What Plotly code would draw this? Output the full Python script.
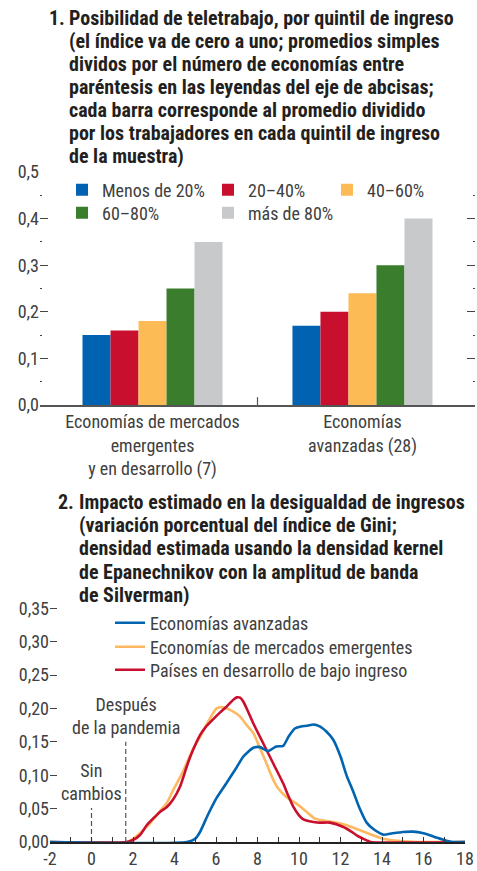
import plotly.graph_objects as go

FONT = "Roboto Condensed, Liberation Sans Narrow, Arial Narrow, sans-serif"
TXT = "#404040"
TITLE_C = "#231f20"
BODY_SIZE = 18
TITLE_SIZE = 20

# ---------------- Panel 1 data ----------------
categories = ["Economías de mercados<br>emergentes<br>y en desarrollo (7)",
              "Economías<br>avanzadas (28)"]
quintile_names = ["Menos de 20%", "20–40%", "40–60%", "60–80%", "más de 80%"]
q1_values = [0.15, 0.17]
q2_values = [0.16, 0.20]
q3_values = [0.18, 0.24]
q4_values = [0.25, 0.30]
q5_values = [0.35, 0.40]
bar_colors = ["#0062b1", "#c8102e", "#fdbb55", "#3a7d2c", "#c8c9cb"]
p1_ticks = [0.0, 0.1, 0.2, 0.3, 0.4, 0.5]
p1_ticktext = ["0,0", "0,1", "0,2", "0,3", "0,4", "0,5"]
title1_num = "1."
title1_lines = ["Posibilidad de teletrabajo, por quintil de ingreso",
                "(el índice va de cero a uno; promedios simples",
                "dividos por el número de economías entre",
                "paréntesis en las leyendas del eje de abcisas;",
                "cada barra corresponde al promedio dividido",
                "por los trabajadores en cada quintil de ingreso",
                "de la muestra)"]

# ---------------- Panel 2 data ----------------
ae_x = [-2, 4.6, 5.0, 5.23, 5.6, 6.03, 6.5, 7.0, 7.32, 7.8, 8.12, 8.5, 8.9, 9.24, 9.5,
        9.8, 10.1, 10.4, 10.7, 11.0, 11.33, 11.65, 12.0, 12.3, 12.62, 12.9, 13.26,
        13.6, 14.06, 14.5, 15.0, 15.5, 16.0, 16.5, 17.1, 17.4, 18]
ae_y = [0, 0, 0.005, 0.015, 0.04, 0.066, 0.088, 0.112, 0.128, 0.141, 0.142, 0.136,
        0.143, 0.144, 0.158, 0.170, 0.173, 0.174, 0.176, 0.173, 0.165, 0.153, 0.128,
        0.099, 0.075, 0.052, 0.029, 0.019, 0.011, 0.013, 0.015, 0.0155, 0.013, 0.008,
        0.002, 0, 0]
eme_x = [-2, 1.7, 2.02, 2.5, 2.82, 3.3, 3.62, 3.94, 4.27, 4.59, 4.9, 5.23, 5.71, 6.03,
         6.35, 6.6, 7.0, 7.16, 7.48, 7.8, 8.1, 8.44, 8.76, 9.0, 9.4, 9.89, 10.37,
         10.77, 11.2, 11.65, 12.3, 12.94, 13.58, 14.06, 14.87, 15.7, 18]
eme_y = [0, 0, 0.005, 0.018, 0.028, 0.046, 0.058, 0.078, 0.097, 0.118, 0.14, 0.157,
         0.185, 0.200, 0.2016, 0.199, 0.192, 0.1876, 0.175, 0.163, 0.142, 0.117, 0.093,
         0.080, 0.067, 0.057, 0.045, 0.035, 0.032, 0.03, 0.025, 0.0175, 0.01, 0.005,
         0.0015, 0, 0]
lidc_x = [-2, 1.69, 2.0, 2.34, 2.66, 3.0, 3.3, 3.62, 3.94, 4.27, 4.59, 4.75, 5.07, 5.23,
          5.5, 5.87, 6.2, 6.51, 6.8, 7.0, 7.16, 7.32, 7.55, 7.8, 8.28, 8.76, 9.24, 9.5,
          9.73, 10.0, 10.21, 10.5, 10.69, 11.0, 11.49, 12.14, 12.5, 12.78, 13.26,
          13.45, 18]
lidc_y = [0, 0, 0.003, 0.0105, 0.025, 0.036, 0.045, 0.052, 0.064, 0.083, 0.113, 0.127,
          0.15, 0.16, 0.172, 0.184, 0.194, 0.2026, 0.212, 0.2165, 0.216, 0.21, 0.195,
          0.1775, 0.1475, 0.1175, 0.0875, 0.068, 0.0525, 0.04, 0.034, 0.031, 0.03,
          0.029, 0.029, 0.0225, 0.016, 0.01, 0.0025, 0, 0]
series_names = ["Economías avanzadas", "Economías de mercados emergentes",
                "Países en desarrollo de bajo ingreso"]
line_colors = ["#0064b0", "#fdb961", "#c8102e"]
p2_yticks = [0.0, 0.05, 0.10, 0.15, 0.20, 0.25, 0.30, 0.35]
p2_yticktext = ["0,00", "0,05", "0,10", "0,15", "0,20", "0,25", "0,30", "0,35"]
p2_xticks = [-2, 0, 2, 4, 6, 8, 10, 12, 14, 16, 18]
p2_xticktext = ["-2", "0", "2", "4", "6", "8", "10", "12", "14", "16", "18"]
ref_x = [0.0, 1.65]
ref_top = [0.051, 0.150]
ref_labels = ["Sin<br>cambios", "Después<br>de la pandemia"]
title2_num = "2."
title2_lines = ["Impacto estimado en la desigualdad de ingresos",
                "(variación porcentual del índice de Gini;",
                "densidad estimada usando la densidad kernel",
                "de Epanechnikov con la amplitud de banda",
                "de Silverman)"]

W, H = 477, 871
def px_x(p): return p / W
def px_y(p): return 1 - p / H

fig = go.Figure()

bar_series = [q1_values, q2_values, q3_values, q4_values, q5_values]
legend_text_pos = [(102, 190), (248, 190), (367, 190), (102, 213), (248, 213)]
for i, (name, vals, col) in enumerate(zip(quintile_names, bar_series, bar_colors)):
    lg = "legend" if i == 0 else f"legend{i+1}"
    fig.add_trace(go.Bar(x=[0, 1], y=vals, name=name, marker=dict(color=col, line=dict(width=0)),
                         xaxis="x", yaxis="y", legend=lg))

order = [1, 2, 0]
dens_x = [ae_x, eme_x, lidc_x]
dens_y = [ae_y, eme_y, lidc_y]
for k in order:
    fig.add_trace(go.Scatter(x=dens_x[k], y=dens_y[k], mode="lines", name=series_names[k],
                             line=dict(color=line_colors[k], width=2.6, shape="spline", smoothing=0.6),
                             xaxis="x2", yaxis="y2", legend=f"legend{6+k}"))

for xv, top in zip(ref_x, ref_top):
    fig.add_trace(go.Scatter(x=[xv, xv], y=[0, top], mode="lines", showlegend=False,
                             line=dict(color="#555", width=1.2, dash="5px,3px"),
                             xaxis="x2", yaxis="y2", hoverinfo="skip"))

legend_common = dict(font=dict(family=FONT, size=BODY_SIZE, color=TXT), bgcolor="rgba(0,0,0,0)",
                     orientation="v", xanchor="left", yanchor="middle", borderwidth=0,
                     itemclick=False)
TEXT_OFFSET = 40
layout_legends = {}
for i, (tx, ty) in enumerate(legend_text_pos):
    key = "legend" if i == 0 else f"legend{i+1}"
    layout_legends[key] = dict(legend_common, x=px_x(tx - TEXT_OFFSET), y=px_y(ty))
leg2_text_pos = [(150, 623), (150, 647), (150, 670)]
for k, (tx, ty) in enumerate(leg2_text_pos):
    layout_legends[f"legend{6+k}"] = dict(legend_common, x=px_x(tx - TEXT_OFFSET), y=px_y(ty))

annotations = []
def title_block(num, lines, num_x, text_x, first_center, step=23):
    out = [dict(text=f"<b>{num}</b>", x=px_x(num_x), y=px_y(first_center), xref="paper",
                yref="paper", xanchor="left", yanchor="middle", showarrow=False,
                font=dict(family=FONT, size=TITLE_SIZE, color=TITLE_C))]
    for j, ln in enumerate(lines):
        out.append(dict(text=f"<b>{ln}</b>", x=px_x(text_x), y=px_y(first_center + j * step),
                        xref="paper", yref="paper", xanchor="left", yanchor="middle",
                        showarrow=False, font=dict(family=FONT, size=TITLE_SIZE, color=TITLE_C)))
    return out

annotations += title_block(title1_num, title1_lines, 47, 67, 18)
annotations += title_block(title2_num, title2_lines, 56, 77, 502, step=23.2)
for xv, top, lab in zip(ref_x, ref_top, ref_labels):
    annotations.append(dict(text=lab, x=xv, y=top, xref="x2", yref="y2", xanchor="center",
                            yanchor="bottom", showarrow=False, align="center", yshift=2,
                            font=dict(family=FONT, size=BODY_SIZE, color=TXT)))

shapes = [dict(type="line", xref="x", yref="y", x0=0.5, x1=0.5, y0=0, y1=0.017,
               line=dict(color="#555", width=1.2))]

fig.update_layout(
    width=W, height=H, margin=dict(l=0, r=0, t=0, b=0, autoexpand=False),
    paper_bgcolor="white", plot_bgcolor="white",
    separators=",.",
    barmode="group", bargap=0.333, bargroupgap=0,
    font=dict(family=FONT, size=BODY_SIZE, color=TXT),
    showlegend=True,
    xaxis=dict(domain=[px_x(40), px_x(475)], range=[-0.536, 1.536], anchor="y",
               tickvals=[0, 1], ticktext=categories, ticks="", showline=True,
               linecolor="#555", linewidth=1.5, showgrid=False, zeroline=False,
               automargin=False, tickfont=dict(family=FONT, size=BODY_SIZE, color=TXT)),
    yaxis=dict(domain=[px_y(405), px_y(172)], range=[0, 0.5], anchor="x",
               tickvals=p1_ticks, ticktext=p1_ticktext, ticks="inside", ticklen=8,
               tickcolor="#444", tickwidth=1, mirror="ticks", showline=False,
               showgrid=False, zeroline=False, automargin=False,
               minor=dict(tickvals=[0.05, 0.15, 0.25, 0.35, 0.45], ticks="inside",
                          ticklen=2, tickcolor="#444"),
               tickfont=dict(family=FONT, size=BODY_SIZE, color=TXT)),
    xaxis2=dict(domain=[px_x(50), px_x(465)], range=[-2, 18], anchor="y2",
                tickvals=p2_xticks, ticktext=p2_xticktext, ticks="inside", ticklen=5,
                tickcolor="#333", showline=True, linecolor="#222", linewidth=1.5,
                showgrid=False, zeroline=False, automargin=False,
                minor=dict(dtick=1, ticks="inside", ticklen=5, tickcolor="#333"),
                tickfont=dict(family=FONT, size=BODY_SIZE, color=TXT)),
    yaxis2=dict(domain=[px_y(842), px_y(842 - 0.385 * 668)], range=[0, 0.385],
                anchor="x2", tickvals=p2_yticks, ticktext=p2_yticktext, ticks="inside",
                ticklen=7, tickcolor="#444", showline=False, showgrid=False, zeroline=False,
                automargin=False, tickfont=dict(family=FONT, size=BODY_SIZE, color=TXT)),
    yaxis3=dict(domain=[px_y(842), px_y(842 - 0.385 * 668)], range=[0.0177, 0.4027],
                anchor="x2", overlaying="y2", side="right",
                tickvals=[0.10, 0.15, 0.20, 0.25, 0.30, 0.35, 0.40], showticklabels=False,
                ticks="inside", ticklen=7, tickcolor="#444", showline=False,
                showgrid=False, zeroline=False, automargin=False),
    annotations=annotations, shapes=shapes,
    **layout_legends,
)

# remove the default page margin so the 477x871 figure fills the window exactly
fig.write_html("out.html", config={"displayModeBar": False},
               post_script="document.body.style.margin='0';document.body.style.overflow='hidden';")
